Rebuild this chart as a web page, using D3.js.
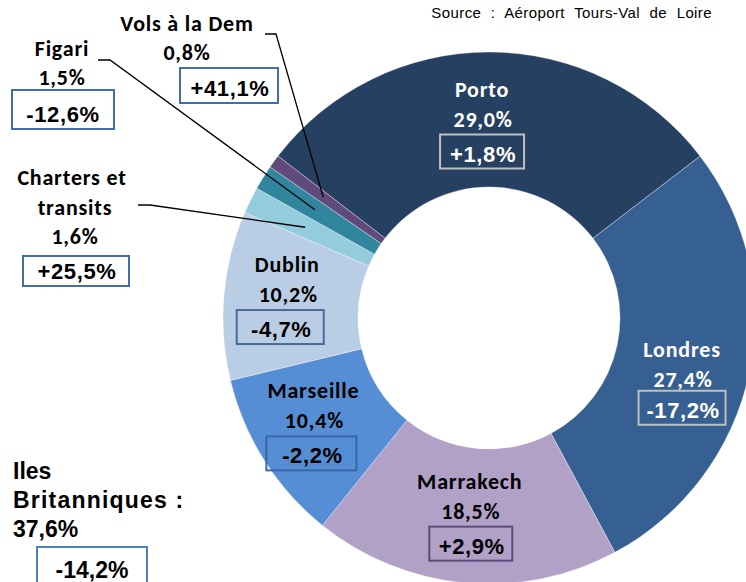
<!DOCTYPE html>
<html>
    <head>
        <meta charset="utf-8">
        <title>Destinations Tours-Val de Loire</title>
        <script src="https://d3js.org/d3.v7.min.js"></script>
        <style>
            body {
                margin: 0;
                background: #fff;
            }
            svg {
                display: block;
                width: 746px;
                height: 582px;
            }
            .lbl {
                font-family: Calibri, Carlito, Lato, sans-serif;
                font-weight: bold;
                font-size: 22px;
                letter-spacing: 0.8px;
            }
            .val {
                font-family: "Liberation Sans", Arial, sans-serif;
                font-weight: bold;
                font-size: 22px;
                letter-spacing: 0.6px;
            }
        </style>
    </head>
    <body>
        <svg></svg>
    </body>
    <script>
        // parts of traffic by destination (%), clockwise from Porto
        let categories = ['Porto', 'Londres', 'Marrakech', 'Marseille', 'Dublin', 'Charters et transits', 'Figari', 'Vols à la Dem'];
        let shares = [29.0, 27.4, 18.5, 10.4, 10.2, 1.6, 1.5, 0.8];
        let shareLabels = ['29,0%', '27,4%', '18,5%', '10,4%', '10,2%', '1,6%', '1,5%', '0,8%'];
        let changes = ['+1,8%', '-17,2%', '+2,9%', '-2,2%', '-4,7%', '+25,5%', '-12,6%', '+41,1%'];
        let colors = ['#264061', '#366092', '#b2a1c7', '#558ed5', '#b9cde5', '#93cddd', '#31859c', '#604a7b'];
        let group = {name: ['Iles', 'Britanniques :'], share: '37,6%', change: '-14,2%'};
        let source = 'Source : Aéroport Tours-Val de Loire';

        let svg = d3.select('svg');
        let cx = 489, cy = 318;
        let outerR = 266, innerR = 131;

        let g = svg.append('g')
                    .attr('transform', `translate(${cx}, ${cy})`);

        let data = categories.map((c, i) => ({name: c, share: shares[i], pct: shareLabels[i], change: changes[i], color: colors[i]}));

        let pie = d3.pie()
                    .sort(null)
                    .value(d => d.share)
                    .startAngle(-52.5 * Math.PI / 180)
                    .endAngle((360 - 52.5) * Math.PI / 180);
        let arcs = pie(data);

        let arc = d3.arc().innerRadius(innerR).outerRadius(outerR);
        let midArc = d3.arc().innerRadius(198.5).outerRadius(198.5);
        let leaderArc = d3.arc().innerRadius(205).outerRadius(205);

        g.selectAll('path')
            .data(arcs)
            .join('path')
            .attr('d', arc)
            .attr('fill', d => d.data.color)
            .attr('stroke', '#ffffff')
            .attr('stroke-opacity', 0.5)
            .attr('stroke-width', 0.7);

        // labels inside the ring: offset of the block from the centroid
        let inside = {
            'Porto':     {dx: -7, dy: -23, bdx: 0,  bw: 84, dark: true,  box: '#bfbfbf'},
            'Londres':   {dx: -1, dy: -3,  bdx: 0,  bw: 87, dark: true,  box: '#bfbfbf', btop: 34},
            'Marrakech': {dx: -1, dy: -27, bdx: 1,  bw: 83, dark: false, box: '#5f497a'},
            'Marseille': {dx: -8, dy: -26, bdx: -2, bw: 90, dark: false, box: '#3a66a3'},
            'Dublin':    {dx: -4, dy: -29, bdx: -7, bw: 87, dark: false, box: '#4a6b98'}
        };

        arcs.filter(d => inside[d.data.name]).forEach(d => {
            let o = inside[d.data.name];
            let c = midArc.centroid(d);
            let x = c[0] + o.dx, y = c[1] + o.dy;
            let fill = o.dark ? '#ffffff' : '#000000';
            let top = y + (o.btop || 38);
            g.append('text').attr('class', 'lbl')
                .attr('x', x).attr('y', y)
                .attr('text-anchor', 'middle').attr('fill', fill)
                .text(d.data.name);
            g.append('text').attr('class', 'lbl')
                .attr('x', x + 1).attr('y', y + 30)
                .attr('text-anchor', 'middle').attr('fill', fill)
                .text(d.data.pct);
            g.append('rect')
                .attr('x', x + o.bdx - o.bw / 2).attr('y', top)
                .attr('width', o.bw).attr('height', 34)
                .attr('fill', 'none').attr('stroke', o.box).attr('stroke-width', 2);
            g.append('text').attr('class', 'val')
                .attr('x', x + o.bdx + 1).attr('y', top + 27)
                .attr('text-anchor', 'middle').attr('fill', fill)
                .text(d.data.change);
        });

        // small slices: labels outside with leader lines
        let outside = {
            'Charters et transits': {lines: ['Charters et', 'transits'], lx: [72, 75], y: 185, px: 75, box: [23, 256, 106, 30], vx: 77, elbow: [138, 150, 205]},
            'Figari':               {lines: ['Figari'], lx: [62], y: 56, px: 62, box: [12, 90, 102, 39], vx: 63, elbow: [98, 110, 60]},
            'Vols à la Dem':        {lines: ['Vols à la Dem'], lx: [187], y: 31, px: 187, box: [180, 68, 98, 35], vx: 230, elbow: [265, 276, 34]}
        };

        arcs.filter(d => outside[d.data.name]).forEach(d => {
            let o = outside[d.data.name];
            let end = leaderArc.centroid(d);
            svg.append('polyline')
                .attr('points', `${o.elbow[0]},${o.elbow[2]} ${o.elbow[1]},${o.elbow[2]} ${cx + end[0]},${cy + end[1]}`)
                .attr('fill', 'none').attr('stroke', '#000').attr('stroke-width', 1.3);
            o.lines.forEach((t, i) => {
                svg.append('text').attr('class', 'lbl')
                    .attr('x', o.lx[i]).attr('y', o.y + i * 30)
                    .attr('text-anchor', 'middle').text(t);
            });
            svg.append('text').attr('class', 'lbl')
                .attr('x', o.px).attr('y', o.y + o.lines.length * 30 - 1)
                .attr('text-anchor', 'middle').text(d.data.pct);
            svg.append('rect')
                .attr('x', o.box[0]).attr('y', o.box[1])
                .attr('width', o.box[2]).attr('height', o.box[3])
                .attr('fill', '#fff').attr('stroke', '#3f6fae').attr('stroke-width', 2);
            svg.append('text').attr('class', 'val')
                .attr('x', o.vx).attr('y', o.box[1] + o.box[3] - 7)
                .attr('text-anchor', 'middle').text(d.data.change);
        });

        // British Isles total
        let gb = svg.append('g')
                    .style('font-family', '"Liberation Sans", Arial, sans-serif')
                    .style('font-weight', 'bold')
                    .style('font-size', '23px');
        gb.append('text').attr('x', 13).attr('y', 479).text(group.name[0]);
        gb.append('text').attr('x', 13).attr('y', 508).style('letter-spacing', '1.2px').text(group.name[1]);
        gb.append('text').attr('x', 13).attr('y', 537).text(group.share);
        gb.append('rect')
            .attr('x', 37).attr('y', 547).attr('width', 110).attr('height', 44)
            .attr('fill', '#fff').attr('stroke', '#4f81bd').attr('stroke-width', 2);
        gb.append('text').attr('x', 92).attr('y', 578).attr('text-anchor', 'middle').text(group.change);

        svg.append('text')
            .attr('x', 712).attr('y', 18)
            .attr('text-anchor', 'end')
            .style('font-family', '"Liberation Sans", Arial, sans-serif')
            .style('font-size', '15px')
            .style('letter-spacing', '0.4px')
            .style('word-spacing', '5px')
            .text(source);
    </script>
</html>
